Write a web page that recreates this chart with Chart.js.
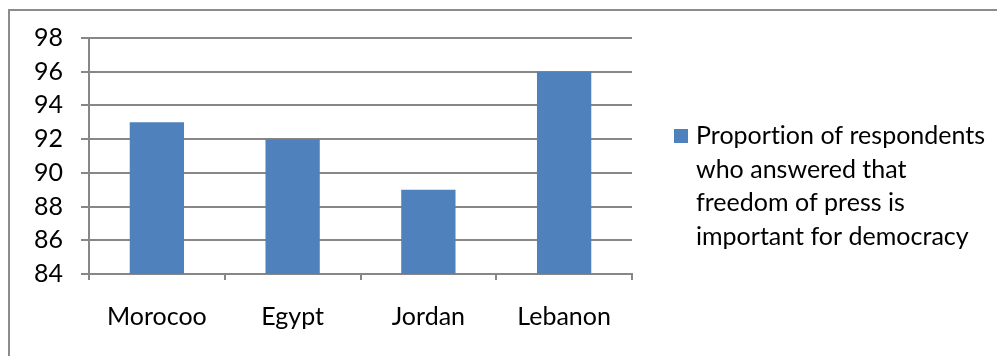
<!DOCTYPE html>
<html lang="en">
<head>
    <meta charset="UTF-8">
    <title>Freedom of press</title>
    <script src="https://cdn.jsdelivr.net/npm/chart.js"></script>
    <style>
        html, body { margin: 0; padding: 0; background: #fff; }
        #wrap { width: 998px; height: 356px; }
    </style>
</head>
<body>
    <div id="wrap"><canvas id="pressChart" width="998" height="356"></canvas></div>

    <script>
        const countries = ['Morocoo', 'Egypt', 'Jordan', 'Lebanon'];
        const proportion = [93, 92, 89, 96];
        const seriesLabel = ['Proportion of respondents', 'who answered that', 'freedom of press is', 'important for democracy'];
        const yMin = 84, yMax = 98, yStep = 2;

        const FONT = 'Lato, "Open Sans", sans-serif';
        const barColor = '#4F81BD';
        const gridColor = '#878787';

        // frame around the whole chart + wrapped legend on the right
        const decor = {
            id: 'decor',
            afterDraw(chart) {
                const ctx = chart.ctx;
                ctx.save();
                ctx.strokeStyle = '#8c8c8c';
                ctx.lineWidth = 2;
                ctx.beginPath();
                ctx.moveTo(9, 360);
                ctx.lineTo(9, 10);
                ctx.lineTo(997, 10);
                ctx.stroke();

                const ds = chart.data.datasets[0];
                const x0 = chart.chartArea.right + 42;
                const y0 = 136;
                ctx.fillStyle = ds.backgroundColor;
                ctx.fillRect(x0, y0 - 7, 14, 14);
                ctx.fillStyle = '#000';
                ctx.font = '25px ' + FONT;
                ctx.textBaseline = 'middle';
                // tiny spacing keeps Lato from joining "ti" into a ligature
                if ('letterSpacing' in ctx) ctx.letterSpacing = '0.01px';
                ds.label.forEach((line, i) => {
                    ctx.fillText(line, x0 + 22, y0 + i * 33.5);
                });
                ctx.restore();
            }
        };

        new Chart(document.getElementById('pressChart'), {
            type: 'bar',
            data: {
                labels: countries,
                datasets: [{
                    label: seriesLabel,
                    data: proportion,
                    backgroundColor: barColor,
                    barPercentage: 0.4,
                    categoryPercentage: 1.0
                }]
            },
            options: {
                responsive: false,
                animation: false,
                layout: { padding: { top: 38, right: 366, left: 0, bottom: 0 } },
                plugins: {
                    legend: { display: false },
                    tooltip: { enabled: false }
                },
                scales: {
                    x: {
                        afterFit(scale) { scale.height = 82; },
                        grid: {
                            offset: true,
                            drawOnChartArea: false,
                            color: gridColor,
                            lineWidth: 2,
                            tickLength: 6
                        },
                        border: { color: gridColor, width: 2 },
                        ticks: {
                            color: '#000',
                            padding: 22,
                            font: { family: FONT, size: 25 }
                        }
                    },
                    y: {
                        min: yMin,
                        max: yMax,
                        afterFit(scale) { scale.width = 89; },
                        grid: {
                            color: gridColor,
                            lineWidth: 2,
                            tickLength: 8
                        },
                        border: { color: gridColor, width: 2 },
                        ticks: {
                            stepSize: yStep,
                            color: '#000',
                            padding: 18,
                            font: { family: FONT, size: 25 }
                        }
                    }
                }
            },
            plugins: [decor]
        });
    </script>
</body>
</html>
